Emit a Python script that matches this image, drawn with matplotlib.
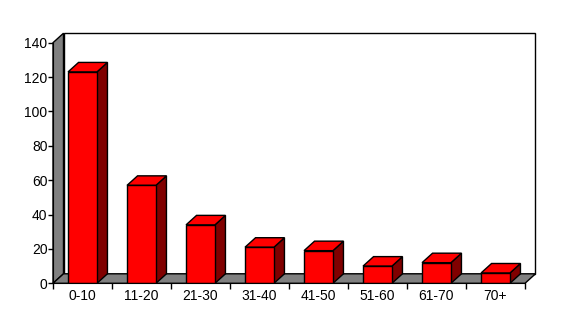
import matplotlib
matplotlib.use("Agg")
import matplotlib.pyplot as plt
from matplotlib.patches import Polygon

# ==========================================================
# DATA
# ==========================================================
categories = ["0-10", "11-20", "21-30", "31-40", "41-50", "51-60", "61-70", "70+"]
values = [123, 57, 34, 21, 19, 10, 12, 6]
y_ticks = [0, 20, 40, 60, 80, 100, 120, 140]

# ==========================================================
# STYLE
# ==========================================================
FRONT = "#FF0000"
SIDE = "#800000"
WALL = "#808080"
BAR_W = 0.49
plt.rcParams["font.family"] = ["Liberation Sans", "DejaVu Sans"]

W, H = 567, 325
fig = plt.figure(figsize=(W / 100, H / 100), dpi=100)
ax = fig.add_axes([53 / W, (H - 283.3) / H, 472 / W, 240.6 / H])
n = len(categories)
ax.set_xlim(-0.5, n - 0.5)
ax.set_ylim(0, 140)

# depth offset: ~10.5 px right, ~9.5 px up, converted to data units
dx = 10.5 / (472 / n)
dy = 9.5 / (240.6 / 140)

x0, x1, ytop = -0.5, n - 0.5, 140

def poly(pts, fc, z):
    p = Polygon(pts, closed=True, facecolor=fc, edgecolor="black",
                linewidth=1, clip_on=False, zorder=z)
    ax.add_patch(p)

# back wall, left wall, floor
poly([(x0 + dx, dy), (x1 + dx, dy), (x1 + dx, ytop + dy), (x0 + dx, ytop + dy)], "white", 1)
poly([(x0, 0), (x0 + dx, dy), (x0 + dx, ytop + dy), (x0, ytop)], WALL, 2)
poly([(x0, 0), (x1, 0), (x1 + dx, dy), (x0 + dx, dy)], WALL, 2)

# bars: front faces through ax.bar, side and top faces as polygons
bars = ax.bar(range(n), values, width=BAR_W, color=FRONT, edgecolor="black",
              linewidth=1, zorder=5)
for i, v in enumerate(values):
    l, r = i - BAR_W / 2, i + BAR_W / 2
    poly([(r, 0), (r + dx, dy), (r + dx, v + dy), (r, v)], SIDE, 4)
    poly([(l, v), (r, v), (r + dx, v + dy), (l + dx, v + dy)], FRONT, 4)

# axes
for s in ["top", "right"]:
    ax.spines[s].set_visible(False)
ax.spines["left"].set_zorder(6)
ax.spines["bottom"].set_zorder(6)
ax.set_facecolor("none")
ax.set_yticks(y_ticks)
ax.set_xticks([i + 0.5 for i in range(-1, n)], minor=False)
ax.set_xticklabels([])
ax.set_xticks(range(n), minor=True)
ax.set_xticklabels(categories, minor=True)
ax.tick_params(axis="x", which="minor", length=0, pad=4, labelsize=10)
ax.tick_params(axis="x", which="major", length=4, direction="out", width=1)
ax.tick_params(axis="y", length=3.5, direction="out", width=1, labelsize=10, pad=0.5)

fig.savefig("out.png", dpi=100)
